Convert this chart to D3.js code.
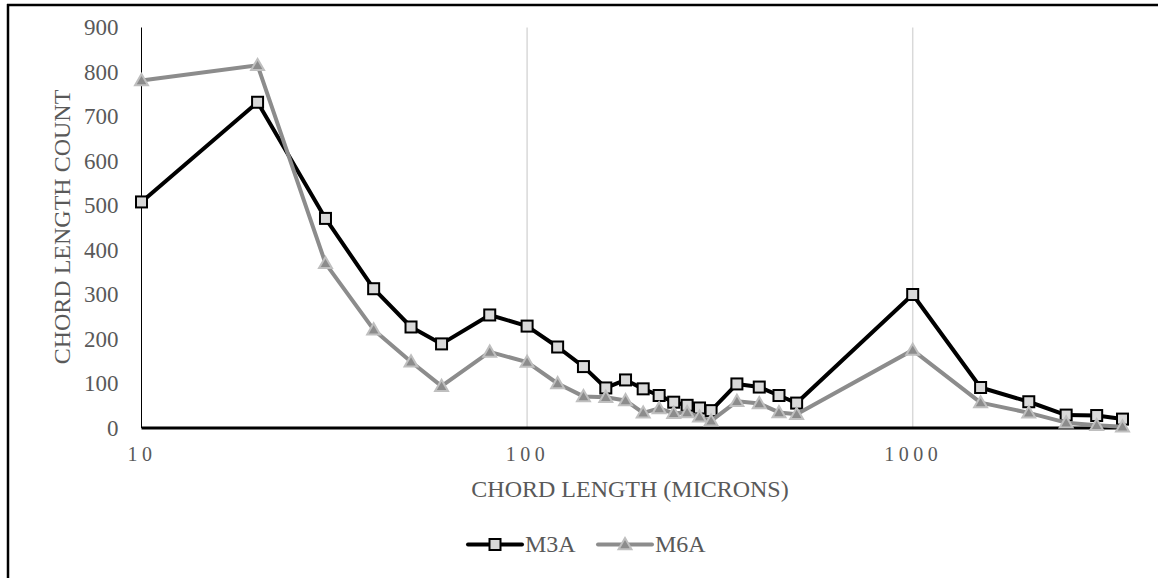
<!DOCTYPE html>
<html>
<head>
<meta charset="utf-8">
<script src="https://cdn.jsdelivr.net/npm/d3@7"></script>
<style>
  html, body { margin: 0; padding: 0; background: #fff; overflow: hidden; }
  svg { display: block; }
  text { font-family: "Liberation Serif", "Times New Roman", "DejaVu Serif", serif; fill: #595959; }
</style>
</head>
<body>
<svg id="chart" width="1158" height="578"></svg>
<script>
// Chord length distribution (counts per chord-length bin, microns)
const chordLengths = [10, 20, 30, 40, 50, 60, 80, 100, 120, 140, 160, 180, 200, 220, 240, 260, 280, 300, 350, 400, 450, 500, 1000, 1500, 2000, 2500, 3000, 3500];
const m3a = [508, 732, 471, 313, 227, 189, 254, 229, 182, 138, 90, 108, 88, 73, 58, 51, 45, 39, 99, 92, 73, 56, 300, 91, 59, 29, 28, 20];
const m6a = [781, 815, 370, 221, 149, 94, 171, 148, 100, 71, 69, 62, 34, 44, 33, 35, 25, 16, 60, 55, 35, 31, 175, 57, 34, 12, 6, 3];
const seriesNames = ["M3A", "M6A"];
const yTicks = [0, 100, 200, 300, 400, 500, 600, 700, 800, 900];
const xTicks = [10, 100, 1000];
const xTitle = "CHORD LENGTH (MICRONS)";
const yTitle = "CHORD LENGTH COUNT";

const svg = d3.select("#chart");
const serif = "'Liberation Serif', 'Times New Roman', 'DejaVu Serif', serif";

// chart frame (top and left edges inside the view)
svg.append("line")
  .attr("x1", 7).attr("x2", 1158).attr("y1", 5).attr("y2", 5)
  .attr("stroke", "#000").attr("stroke-width", 2.5);
svg.append("line")
  .attr("x1", 8).attr("x2", 8).attr("y1", 4).attr("y2", 578)
  .attr("stroke", "#000").attr("stroke-width", 2.5);

const x = d3.scaleLog().domain([10, 3500]).range([141.5, 1122.5]);
const y = d3.scaleLinear().domain([0, 900]).range([428, 27.5]);

// vertical gridlines at the decades
svg.append("g").selectAll("line")
  .data(xTicks.filter(d => d > 10))
  .join("line")
  .attr("x1", d => x(d)).attr("x2", d => x(d))
  .attr("y1", y(900)).attr("y2", y(0))
  .attr("stroke", "#d9d9d9").attr("stroke-width", 1.5);

// value axis line
svg.append("line")
  .attr("x1", x(10)).attr("x2", x(10))
  .attr("y1", y(900)).attr("y2", y(0))
  .attr("stroke", "#000").attr("stroke-width", 1);

// y tick labels
const yAxis = svg.append("g")
  .attr("transform", `translate(${x(10)},0)`)
  .call(d3.axisLeft(y).tickValues(yTicks).tickSize(0).tickPadding(23).tickFormat(d3.format("d")));
yAxis.attr("font-family", serif);
yAxis.select(".domain").remove();
yAxis.selectAll("text")
  .attr("font-size", 23)
  .attr("fill", "#595959");

// x tick labels
const xAxis = svg.append("g")
  .attr("transform", `translate(0,${y(0)})`)
  .call(d3.axisBottom(x).tickValues(xTicks).tickSize(0).tickFormat(d3.format("d")));
xAxis.attr("font-family", serif);
xAxis.select(".domain").remove();
xAxis.selectAll("text")
  .attr("y", 33).attr("dy", 0)
  .attr("font-size", 20)
  .attr("letter-spacing", 4.5)
  .attr("fill", "#595959");

// category axis line
svg.append("line")
  .attr("x1", x(10)).attr("x2", x(3500))
  .attr("y1", y(0)).attr("y2", y(0))
  .attr("stroke", "#000").attr("stroke-width", 3);

// axis titles
svg.append("text")
  .attr("x", 630).attr("y", 497)
  .attr("text-anchor", "middle")
  .attr("font-size", 24)
  .text(xTitle);

svg.append("text")
  .attr("transform", `translate(70,227) rotate(-90)`)
  .attr("text-anchor", "middle")
  .attr("font-size", 24)
  .text(yTitle);

const line = d3.line().x(d => x(d[0])).y(d => y(d[1]));

const styles = [
  { values: m3a, stroke: "#000", width: 4, marker: "square", fill: "#d9d9d9", mstroke: "#000", mwidth: 2 },
  { values: m6a, stroke: "#8c8c8c", width: 4, marker: "triangle", fill: "#8c8c8c", mstroke: "#bfbfbf", mwidth: 2 }
];

const triSym = d3.symbol().type(d3.symbolTriangle).size(72);

function drawMarker(g, s, cx, cy) {
  if (s.marker === "square") {
    g.append("rect")
      .attr("x", cx - 5.5).attr("y", cy - 5.5)
      .attr("width", 11).attr("height", 11)
      .attr("fill", s.fill).attr("stroke", s.mstroke).attr("stroke-width", s.mwidth);
  } else {
    g.append("path")
      .attr("d", triSym())
      .attr("transform", `translate(${cx},${cy + 1})`)
      .attr("fill", s.fill).attr("stroke", s.mstroke).attr("stroke-width", s.mwidth);
  }
}

styles.forEach(s => {
  const pts = chordLengths.map((c, i) => [c, s.values[i]]);
  const g = svg.append("g");
  g.append("path")
    .attr("d", line(pts))
    .attr("fill", "none")
    .attr("stroke", s.stroke)
    .attr("stroke-width", s.width)
    .attr("stroke-linejoin", "round");
  pts.forEach(p => drawMarker(g, s, x(p[0]), y(p[1])));
});

// legend
const legendX = [468, 598];
const legend = svg.append("g");
seriesNames.forEach((name, i) => {
  const s = styles[i];
  const lx = legendX[i];
  const ly = 544.5;
  legend.append("line")
    .attr("x1", lx).attr("x2", lx + 54)
    .attr("y1", ly).attr("y2", ly)
    .attr("stroke", s.stroke).attr("stroke-width", 4)
    .attr("stroke-linecap", "round");
  drawMarker(legend, s, lx + 27, ly);
  legend.append("text")
    .attr("x", lx + 57).attr("y", 552)
    .attr("font-size", 24)
    .text(name);
});
</script>
</body>
</html>
